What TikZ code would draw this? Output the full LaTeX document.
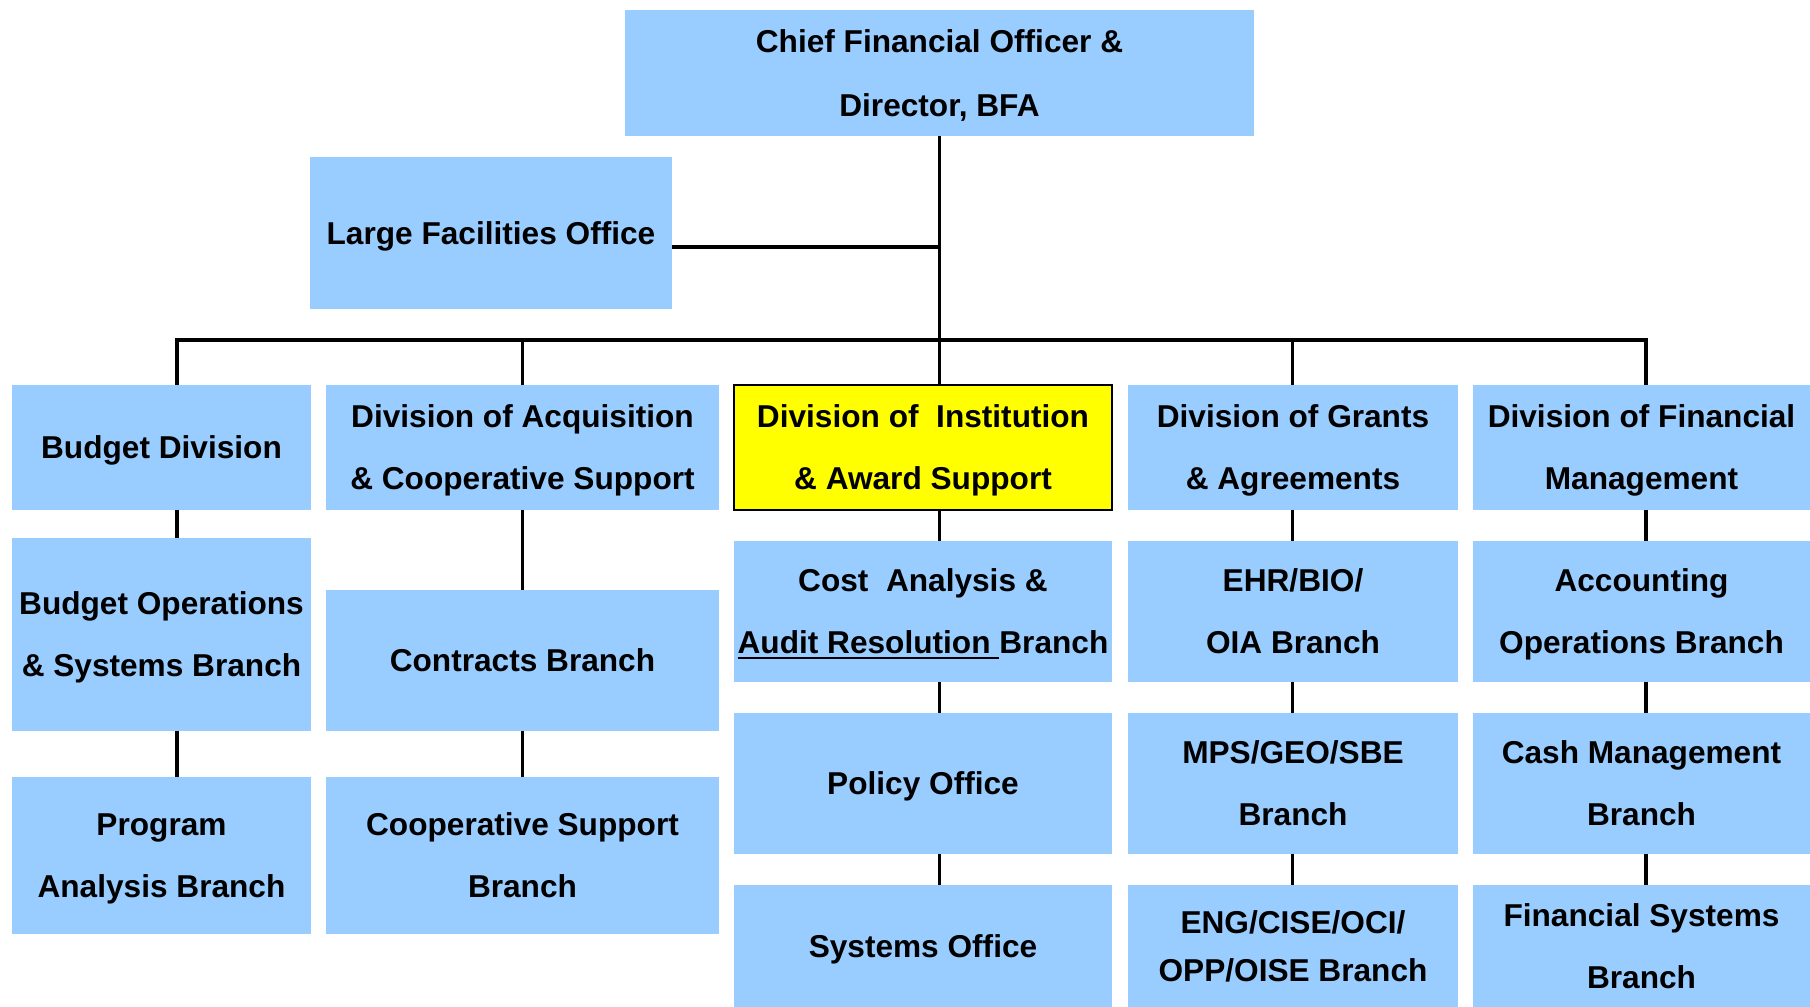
\documentclass[tikz,border=0pt]{standalone}
\usepackage{fontspec}
\setsansfont{Liberation Sans}
\definecolor{cblue}{HTML}{99CCFF}
\definecolor{cyellow}{HTML}{FFFF00}
\newcommand{\thickul}[1]{\leavevmode\vtop{\hbox{#1}\kern1.6pt\hrule height 1.3pt}}
\tikzset{
  every picture/.style={font=\sffamily\bfseries, line width=2pt},
  unit/.style={fill=#1, inner sep=0pt, outer sep=0pt, align=center, text=black, text depth=0pt, font=\sffamily\bfseries\fontsize{18}{35.3}\selectfont},
  unit/.default=cblue,
  wh/.style 2 args={minimum width=#1cm, minimum height=#2cm},
  link/.style={draw=black, line width=2pt},
  bus/.style={link, line width=2.3pt, line cap=rect},
}

\begin{document}
\begin{tikzpicture}[x=0.02cm, y=-0.02cm]
  % canvas counted in pixels, y runs downward
  \useasboundingbox (0,0) rectangle (1810,1007);
  \node[unit, wh={12.58}{2.52}, font=\sffamily\bfseries\fontsize{18}{36.8}\selectfont] (cfo) at (939.5,73) {Chief Financial Officer \&\\Director, BFA};
  \node[unit, wh={7.24}{3.04}] (lfo) at (491,233) {Large Facilities Office};
  % divisions
  \node[unit, wh={5.98}{2.5}] (bud) at (161.5,447.5) {Budget Division};
  \node[unit, wh={7.86}{2.5}] (acq) at (522.5,447.5) {Division of Acquisition\\\& Cooperative Support};
  \node[unit=cyellow, draw=black, line width=1.2pt, wh={7.56}{2.5}] (ias) at (923,447.5) {Division of\ \ Institution\\\& Award Support};
  \node[unit, wh={6.6}{2.5}] (gra) at (1293,447.5) {Division of Grants\\\& Agreements};
  \node[unit, wh={6.74}{2.5}] (dfm) at (1641.5,447.5) {Division of Financial\\Management};
  % branches and offices
  \node[unit, wh={5.98}{3.86}, text depth=-3.5pt] (bops) at (161.5,634.5) {Budget Operations\\\& Systems Branch};
  \node[unit, wh={5.98}{3.14}, text depth=-3.5pt] (pab) at (161.5,855.5) {Program\\Analysis Branch};
  \node[unit, wh={7.86}{2.82}] (con) at (522.5,660.5) {Contracts Branch};
  \node[unit, wh={7.86}{3.14}] (csb) at (522.5,855.5) {Cooperative Support\\Branch};
  \node[unit, wh={7.56}{2.82}] (cab) at (923,611.5) {Cost\ \ Analysis \&\\\thickul{Audit Resolution }Branch};
  \node[unit, wh={7.56}{2.82}] (pol) at (923,783.5) {Policy Office};
  \node[unit, wh={7.56}{2.44}] (sys) at (923,946) {Systems Office};
  \node[unit, wh={6.6}{2.82}] (ehr) at (1293,611.5) {EHR/BIO/\\OIA Branch};
  \node[unit, wh={6.6}{2.82}] (mps) at (1293,783.5) {MPS/GEO/SBE\\Branch};
  \node[unit, wh={6.6}{2.44}, font=\sffamily\bfseries\fontsize{18}{26.8}\selectfont] (eng) at (1293,946) {ENG/CISE/OCI/\\OPP/OISE Branch};
  \node[unit, wh={6.74}{2.82}] (aob) at (1641.5,611.5) {Accounting\\Operations Branch};
  \node[unit, wh={6.74}{2.82}] (cmb) at (1641.5,783.5) {Cash Management\\Branch};
  \node[unit, wh={6.74}{2.44}, text depth=-2.5pt] (fsb) at (1641.5,946) {Financial Systems\\Branch};
  % trunk, staff office and bus
  \draw[link] (cfo.south) -- (ias.north -| cfo.south);
  \coordinate (lfoj) at ([yshift=-0.28cm]lfo.east);
  \draw[link, line width=2.3pt] (lfoj) -- (lfoj -| cfo.south);
  \foreach \n/\x in {colA/177, colB/522.5, colD/1292.5, colE/1646} \coordinate (\n) at (\x,340);
  \coordinate (colC) at (cfo.south |- colA);
  \draw[bus] (colA) -- (colE);
  \foreach \c/\d in {colA/bud, colB/acq, colD/gra, colE/dfm} \draw[link] (\c) -- (\c |- \d.north);
  % lines down each column
  \foreach \c/\a/\b in {colA/bud/bops, colA/bops/pab, colB/acq/con, colB/con/csb, colC/ias/cab, colC/cab/pol, colC/pol/sys, colD/gra/ehr, colD/ehr/mps, colD/mps/eng, colE/dfm/aob, colE/aob/cmb, colE/cmb/fsb}
    \draw[link] (\a.south -| \c) -- (\b.north -| \c);
\end{tikzpicture}
\end{document}
